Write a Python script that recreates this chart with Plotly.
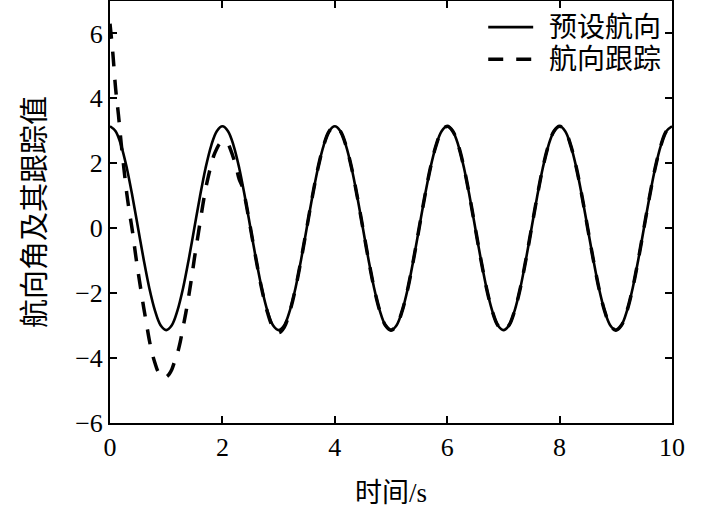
import plotly.graph_objects as go

# time axis (s) and values
t = [round(0.1 * i, 1) for i in range(101)]

preset_heading = [
    3.14, 2.99, 2.54, 1.85, 0.97, 0.00, -0.97, -1.85, -2.54, -2.99,
    -3.14, -2.99, -2.54, -1.85, -0.97, 0.00, 0.97, 1.85, 2.54, 2.99,
    3.14, 2.99, 2.54, 1.85, 0.97, 0.00, -0.97, -1.85, -2.54, -2.99,
    -3.14, -2.99, -2.54, -1.85, -0.97, 0.00, 0.97, 1.85, 2.54, 2.99,
    3.14, 2.99, 2.54, 1.85, 0.97, 0.00, -0.97, -1.85, -2.54, -2.99,
    -3.14, -2.99, -2.54, -1.85, -0.97, 0.00, 0.97, 1.85, 2.54, 2.99,
    3.14, 2.99, 2.54, 1.85, 0.97, 0.00, -0.97, -1.85, -2.54, -2.99,
    -3.14, -2.99, -2.54, -1.85, -0.97, 0.00, 0.97, 1.85, 2.54, 2.99,
    3.14, 2.99, 2.54, 1.85, 0.97, 0.00, -0.97, -1.85, -2.54, -2.99,
    -3.14, -2.99, -2.54, -1.85, -0.97, 0.00, 0.97, 1.85, 2.54, 2.99,
    3.14,
]

# tracking curve: denser samples over the transient, then it follows the preset
t_track = [
    0.00, 0.05, 0.10, 0.15, 0.20, 0.25, 0.30, 0.35, 0.40, 0.45,
    0.50, 0.55, 0.60, 0.65, 0.70, 0.75, 0.80, 0.85, 0.90, 0.95,
    1.00, 1.05, 1.10, 1.15, 1.20, 1.25, 1.30, 1.35, 1.40, 1.45,
    1.50, 1.55, 1.60, 1.65, 1.70, 1.75, 1.80, 1.85, 1.90, 1.95,
    2.00, 2.05, 2.10, 2.15, 2.20, 2.25, 2.30, 2.35, 2.40, 2.45,
    2.50, 2.60, 2.70, 2.80, 2.90, 3.00, 3.10, 3.20, 3.30, 3.40,
    3.50, 3.60, 3.70, 3.80, 3.90, 4.00, 4.10, 4.20, 4.30, 4.40,
    4.50, 4.60, 4.70, 4.80, 4.90, 5.00, 5.10, 5.20, 5.30, 5.40,
    5.50, 5.60, 5.70, 5.80, 5.90, 6.00, 6.10, 6.20, 6.30, 6.40,
    6.50, 6.60, 6.70, 6.80, 6.90, 7.00, 7.10, 7.20, 7.30, 7.40,
    7.50, 7.60, 7.70, 7.80, 7.90, 8.00, 8.10, 8.20, 8.30, 8.40,
    8.50, 8.60, 8.70, 8.80, 8.90, 9.00, 9.10, 9.20, 9.30, 9.40,
    9.50, 9.60, 9.70, 9.80, 9.90, 10.00,
]
heading_track = [
    6.30, 5.40, 4.30, 3.50, 2.60, 1.80, 1.05, 0.45, -0.10, -0.75,
    -1.35, -1.90, -2.45, -2.95, -3.45, -3.85, -4.15, -4.40, -4.55, -4.60,
    -4.58, -4.50, -4.35, -4.10, -3.85, -3.50, -3.05, -2.60, -2.10, -1.55,
    -0.95, -0.40, 0.15, 0.70, 1.20, 1.60, 1.95, 2.25, 2.45, 2.60,
    2.66, 2.68, 2.60, 2.40, 2.15, 1.85, 1.50, 1.30, 0.95, 0.49,
    0.00, -0.97, -1.87, -2.58, -3.05, -3.22, -3.05, -2.56, -1.86, -0.97,
    0.00, 0.97, 1.85, 2.54, 2.99, 3.14, 2.99, 2.54, 1.85, 0.97,
    0.00, -0.97, -1.85, -2.54, -2.99, -3.14, -2.99, -2.54, -1.85, -0.97,
    0.00, 0.97, 1.85, 2.54, 2.99, 3.14, 2.99, 2.54, 1.85, 0.97,
    0.00, -0.97, -1.85, -2.54, -2.99, -3.14, -2.99, -2.54, -1.85, -0.97,
    0.00, 0.97, 1.85, 2.54, 2.99, 3.14, 2.99, 2.54, 1.85, 0.97,
    0.00, -0.97, -1.85, -2.54, -2.99, -3.14, -2.99, -2.54, -1.85, -0.97,
    0.00, 0.97, 1.85, 2.54, 2.99, 3.14,
]

series_names = ["预设航向", "航向跟踪"]
x_ticks = [0, 2, 4, 6, 8, 10]
y_ticks = [-6, -4, -2, 0, 2, 4, 6]

NUM_FONT = "Liberation Serif"
CJK_FONT = "Liberation Serif, Noto Sans CJK SC"
SOLID = dict(color="black", width=2.6)
DASHED = dict(color="black", width=3.5, dash="15px,13px")

fig = go.Figure()

fig.add_trace(go.Scatter(x=t, y=preset_heading, mode="lines", name=series_names[0],
                         line=dict(shape="spline", **SOLID)))
fig.add_trace(go.Scatter(x=t_track, y=heading_track, mode="lines", name=series_names[1],
                         line=dict(shape="spline", **DASHED)))

axis_style = dict(showline=True, linecolor="black", linewidth=2, mirror="ticks",
                  ticks="inside", ticklen=7, tickwidth=1.5, tickcolor="black",
                  showgrid=False, zeroline=False, automargin=False,
                  tickfont=dict(family=NUM_FONT, size=26, color="black"))

fig.update_xaxes(range=[0, 10], tickvals=x_ticks,
                 title=dict(text="时间/s", font=dict(family=CJK_FONT, size=27, color="black"), standoff=22),
                 **axis_style)
fig.update_yaxes(range=[-6, 7], tickvals=y_ticks,
                 title=dict(text="航向角及其跟踪值", font=dict(family=CJK_FONT, size=29, color="black"), standoff=21),
                 **axis_style)

# legend drawn by hand so the row spacing and line length match
legend_rows = [0.938, 0.862]
for name, style, yy in zip(series_names, [SOLID, DASHED], legend_rows):
    fig.add_shape(type="line", xref="paper", yref="paper", x0=0.673, x1=0.753, y0=yy, y1=yy,
                  line=style)
    fig.add_annotation(xref="paper", yref="paper", x=0.778, y=yy, xanchor="left", yanchor="middle",
                       text=name, showarrow=False,
                       font=dict(family=CJK_FONT, size=28, color="black"))

fig.update_layout(
    width=709, height=508,
    margin=dict(l=110, r=37, t=1, b=85),
    plot_bgcolor="white", paper_bgcolor="white",
    showlegend=False,
)

# the page's default body margin would push the chart 8px right and down
fig.write_html("out.html", config={"displayModeBar": False},
               post_script="document.body.style.margin = '0';")
